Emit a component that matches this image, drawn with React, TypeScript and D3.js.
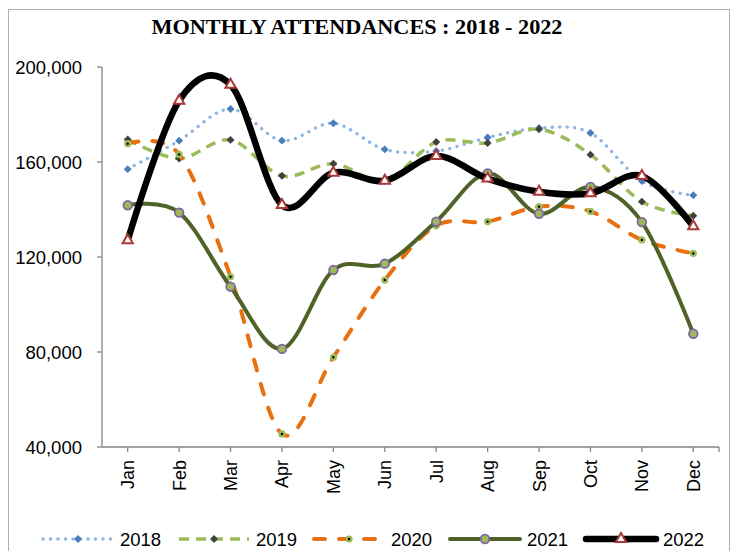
import * as d3 from "d3";

const months = ["Jan", "Feb", "Mar", "Apr", "May", "Jun", "Jul", "Aug", "Sep", "Oct", "Nov", "Dec"];
const yTicks = [40000, 80000, 120000, 160000, 200000];

const s2018 = [157000, 169000, 182300, 169000, 176300, 165300, 164600, 170300, 174300, 172200, 152000, 146000];
const s2019 = [169500, 161500, 169300, 154200, 159300, 152100, 168400, 168000, 173800, 163100, 143300, 137400];
const s2020 = [167700, 163200, 111700, 45500, 77800, 110300, 133200, 134900, 141200, 139200, 127200, 121500];
const s2021 = [141800, 138700, 107500, 81300, 114500, 117200, 134900, 155200, 138200, 149500, 134700, 87700];
const s2022 = [127000, 185800, 192500, 141900, 155500, 152100, 162500, 153000, 147500, 146800, 154100, 132900];

type Marker = "diamondBlue" | "diamondDark" | "dotGreen" | "circlePurple" | "triangle";

interface Series {
  name: string;
  values: number[];
  color: string;
  width: number;
  dash?: string;
  cap: "round" | "butt";
  marker: Marker;
}

const series: Series[] = [
  { name: "2018", values: s2018, color: "#8db4e2", width: 3.5, dash: "0 7.5", cap: "round", marker: "diamondBlue" },
  { name: "2019", values: s2019, color: "#9bbb59", width: 3.5, dash: "10 7", cap: "butt", marker: "diamondDark" },
  { name: "2020", values: s2020, color: "#e8700f", width: 4, dash: "11 14", cap: "round", marker: "dotGreen" },
  { name: "2021", values: s2021, color: "#4f6228", width: 4, cap: "round", marker: "circlePurple" },
  { name: "2022", values: s2022, color: "#000000", width: 6.5, cap: "round", marker: "triangle" }
];

const font = "'Liberation Sans', Arial, sans-serif";
const left = 102;
const right = 719;
const top = 67;
const bottom = 447;

const diamond = d3.symbol(d3.symbolDiamond2, 40)() ?? "";
const triangle = d3.symbol(d3.symbolTriangle, 46)() ?? "";

function MarkerShape({ kind, x, y }: { kind: Marker; x: number; y: number }) {
  const t = `translate(${x},${y})`;
  if (kind === "diamondBlue") return <path d={diamond} transform={t} fill="#4a7ebb" />;
  if (kind === "diamondDark") return <path d={diamond} transform={t} fill="#404040" />;
  if (kind === "dotGreen")
    return <circle cx={x} cy={y} r={2.4} fill="#000" stroke="#9bbb59" strokeWidth={2.4} />;
  if (kind === "circlePurple")
    return <circle cx={x} cy={y} r={4.3} fill="#9bbb59" stroke="#8064a2" strokeWidth={1.8} />;
  return <path d={triangle} transform={t} fill="#fff" stroke="#a83a37" strokeWidth={2} />;
}

export default function App() {
  const x = d3.scaleBand<string>().domain(months).range([left, right]);
  const y = d3.scaleLinear().domain([40000, 200000]).range([bottom, top]);
  const cx = (m: string) => (x(m) ?? 0) + x.bandwidth() / 2;
  const path = d3
    .line<number>()
    .x((_, i) => cx(months[i]))
    .y((v) => y(v))
    .curve(d3.curveCardinal.tension(0));
  const fmt = d3.format(",");

  const legendX = [43, 179, 314, 450, 586];

  return (
    <svg
      width={739}
      height={551}
      style={{ position: "absolute", left: 0, top: 0, background: "#fff" }}
    >
      <rect x={8.5} y={9.5} width={721} height={560} fill="#fff" stroke="#b0b0b0" strokeWidth={1} />
      <text
        x={357}
        y={34}
        textAnchor="middle"
        fontFamily="'Liberation Serif', 'Times New Roman', serif"
        fontWeight="bold"
        fontSize={21}
        textLength={411}
        lengthAdjust="spacingAndGlyphs"
      >
        MONTHLY ATTENDANCES : 2018 - 2022
      </text>

      {/* y axis */}
      <line x1={left} x2={left} y1={top} y2={bottom} stroke="#868686" strokeWidth={1.3} />
      {yTicks.map((t) => (
        <g key={t}>
          <line x1={left - 5} x2={left} y1={y(t)} y2={y(t)} stroke="#868686" strokeWidth={1.3} />
          <text x={82} y={y(t)} dy="0.36em" textAnchor="end" fontFamily={font} fontSize={18.5} fill="#000">
            {fmt(t)}
          </text>
        </g>
      ))}

      {/* x axis */}
      <line x1={left} x2={right} y1={bottom} y2={bottom} stroke="#868686" strokeWidth={1.3} />
      {months.map((m) => (
        <g key={m}>
          <line x1={cx(m)} x2={cx(m)} y1={bottom} y2={bottom + 5} stroke="#868686" strokeWidth={1.3} />
          <text
            transform={`translate(${cx(m)},${bottom + 13}) rotate(-90)`}
            dy="0.36em"
            textAnchor="end"
            fontFamily={font}
            fontSize={18}
          >
            {m}
          </text>
        </g>
      ))}
      <line x1={right} x2={right} y1={bottom} y2={bottom + 5} stroke="#868686" strokeWidth={1.3} />

      {series.map((s) => (
        <g key={s.name}>
          <path
            d={path(s.values) ?? ""}
            fill="none"
            stroke={s.color}
            strokeWidth={s.width}
            strokeDasharray={s.dash}
            strokeLinecap={s.cap}
            strokeLinejoin="round"
          />
          {s.values.map((v, i) => (
            <MarkerShape key={i} kind={s.marker} x={cx(months[i])} y={y(v)} />
          ))}
        </g>
      ))}

      {/* legend */}
      {series.map((s, i) => {
        const lx = legendX[i];
        const ly = 539;
        return (
          <g key={s.name}>
            <line
              x1={lx}
              x2={lx + 70}
              y1={ly}
              y2={ly}
              stroke={s.color}
              strokeWidth={s.width}
              strokeDasharray={s.dash}
              strokeLinecap={s.cap}
            />
            <MarkerShape kind={s.marker} x={lx + 35} y={ly} />
            <text x={lx + 77} y={ly} dy="0.36em" fontFamily={font} fontSize={18.5}>
              {s.name}
            </text>
          </g>
        );
      })}
    </svg>
  );
}
